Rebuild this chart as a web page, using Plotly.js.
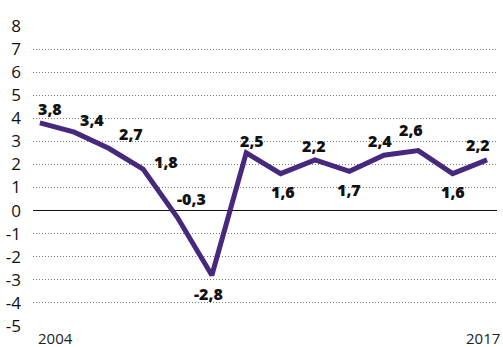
<!DOCTYPE html>
<html><head><meta charset="utf-8">
<script src="https://cdn.plot.ly/plotly-3.0.1.min.js"></script>
<style>html,body{margin:0;padding:0;background:#fff}#c{width:503px;height:347px}</style>
</head><body><div id="c"></div>
<script>
const years = [2004,2005,2006,2007,2008,2009,2010,2011,2012,2013,2014,2015,2016,2017];
const values = [3.8,3.4,2.7,1.8,-0.3,-2.8,2.5,1.6,2.2,1.7,2.4,2.6,1.6,2.2];
const labels = ["3,8","3,4","2,7","1,8","-0,3","-2,8","2,5","1,6","2,2","1,7","2,4","2,6","1,6","2,2"];
const yTicks = [-5,-4,-3,-2,-1,0,1,2,3,4,5,6,7,8];
const xEnds = [2004, 2017];

const offsets = [[10,14],[18,12],[22,14],[23,7],[14,19],[-3,-19],[6,12],[2,-18],[-1,14],[0,-19],[-4,14],[-7,21],[0,-18],[-9,15]];
const ann = years.map((y,i)=>({x:y,y:values[i],text:labels[i],showarrow:false,xshift:offsets[i][0],yshift:offsets[i][1],
  font:{family:'Open Sans, sans-serif',size:16,color:'#111',weight:800}}));
ann.push({x:xEnds[0],y:0,yref:'paper',yanchor:'top',yshift:0,xanchor:'left',xshift:-4,text:String(xEnds[0]),showarrow:false,font:{family:'Open Sans, sans-serif',size:15,color:'#222',weight:500}});
ann.push({x:xEnds[1],y:0,yref:'paper',yanchor:'top',yshift:0,xanchor:'right',xshift:15,text:String(xEnds[1]),showarrow:false,font:{family:'Open Sans, sans-serif',size:15,color:'#222',weight:500}});

Plotly.newPlot('c',[{x:years,y:values,type:'scatter',mode:'lines',line:{color:'#46287d',width:5},hoverinfo:'none'}],{
  width:503,height:347,margin:{l:33,r:6,t:26,b:21},paper_bgcolor:'#fff',plot_bgcolor:'#fff',showlegend:false,
  xaxis:{range:[2003.8,2017.29],showgrid:false,zeroline:false,showticklabels:false,ticks:'',showline:false},
  yaxis:{range:[-5,8],tickvals:yTicks,ticktext:yTicks.map(String),showgrid:true,gridcolor:'#777',griddash:'1px,2px',gridwidth:1,
    zeroline:true,zerolinecolor:'#111',zerolinewidth:1,ticks:'',ticklabelstandoff:11,
    tickfont:{family:'Open Sans, sans-serif',size:17,color:'#111',weight:500}},
  annotations:ann
},{staticPlot:true});
</script></body></html>
